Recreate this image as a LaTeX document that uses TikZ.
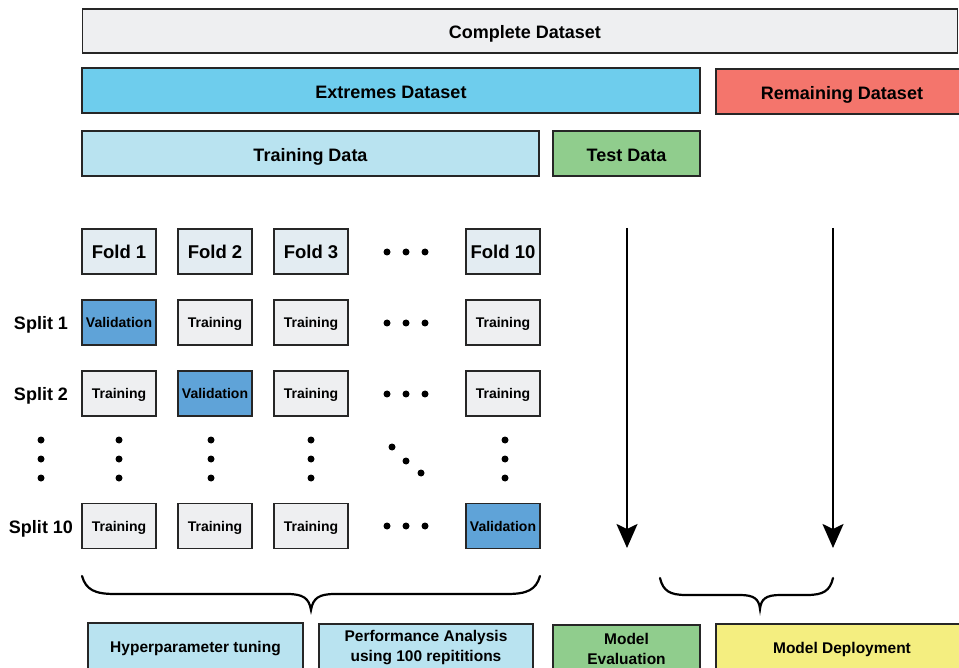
\documentclass[tikz,border=0pt]{standalone}
\usepackage{fontspec}
\setmainfont{Liberation Sans}
\usetikzlibrary{arrows.meta}

\definecolor{edge}{HTML}{262626}
\definecolor{completefill}{HTML}{EEEFF1}
\definecolor{extremesfill}{HTML}{6ECDED}
\definecolor{remainfill}{HTML}{F4756C}
\definecolor{trainfill}{HTML}{B9E3F0}
\definecolor{testfill}{HTML}{90CD8D}
\definecolor{foldfill}{HTML}{E3ECF2}
\definecolor{cellfill}{HTML}{EEEFF1}
\definecolor{validfill}{HTML}{5FA3D8}
\definecolor{deployfill}{HTML}{F4EE80}

\begin{document}
\begin{tikzpicture}[x=1pt,y=-1pt,
  box/.style={draw=edge, line width=1.3pt, rectangle, inner sep=0pt,
    text height=15.5pt, text depth=0pt,
    font=\bfseries\fontsize{18}{20}\selectfont},
  lbl/.style={inner sep=0pt, text height=13pt, text depth=0pt,
    font=\bfseries\fontsize{18}{20}\selectfont},
  foldbox/.style={box, fill=foldfill, minimum width=74pt, minimum height=45pt,
    text height=13.5pt, font=\bfseries\fontsize{18.5}{20}\selectfont},
  trcell/.style={box, fill=cellfill, minimum width=74pt, minimum height=45pt,
    text height=10.5pt, font=\bfseries\fontsize{14}{16}\selectfont},
  vacell/.style={trcell, fill=validfill},
  bottombox/.style={draw=edge, line width=1.3pt, rectangle, inner sep=0pt,
    minimum height=48pt, align=center,
    font=\bfseries\fontsize{15.5}{20}\selectfont},
  onebottom/.style={bottombox, text height=11.1pt, text depth=0pt},
  dot/.style={circle, fill=black, inner sep=0pt, minimum size=7pt},
  flow/.style={line width=2.2pt, -{Stealth[length=24pt,width=21pt,inset=5pt]}},
  brace/.style={line width=2.2pt, line cap=round}
]
\clip (0,0) rectangle (959,668);

% dataset partition bars
\node[box, fill=completefill, minimum width=875pt, minimum height=44pt] (complete) at (520,31) {};
\node[lbl] (completetext) at (525,32.5) {Complete Dataset};
\node[box, fill=extremesfill, minimum width=618pt, minimum height=45pt] (extremes) at (391,90.5) {Extremes Dataset};
\node[box, fill=remainfill, minimum width=252pt, minimum height=45pt] (remaining) at (842,91.5) {Remaining Dataset};
\node[box, fill=trainfill, minimum width=457pt, minimum height=45pt] (traindata) at (310.5,153.5) {Training Data};
\node[box, fill=testfill, minimum width=147pt, minimum height=45pt] (testdata) at (626.5,153.5) {Test Data};

% fold headers
\node[foldbox] (f1) at (119,251.5) {Fold 1};
\node[foldbox] (f2) at (215,251.5) {Fold 2};
\node[foldbox] (f3) at (311,251.5) {Fold 3};
\node[foldbox] (f10) at (503,251.5) {Fold 10};

% split labels
\node[lbl] (s1) at (41,323.5) {Split 1};
\node[lbl] (s2) at (41,394.5) {Split 2};
\node[lbl] (s10) at (41,527) {Split 10};

% split 1
\node[vacell] (a1) at (119,322.5) {Validation};
\node[trcell] (a2) at (215,322.5) {Training};
\node[trcell] (a3) at (311,322.5) {Training};
\node[trcell] (a10) at (503,322.5) {Training};
% split 2
\node[trcell] (b1) at (119,393.5) {Training};
\node[vacell] (b2) at (215,393.5) {Validation};
\node[trcell] (b3) at (311,393.5) {Training};
\node[trcell] (b10) at (503,393.5) {Training};
% split 10
\node[trcell] (c1) at (119,526) {Training};
\node[trcell] (c2) at (215,526) {Training};
\node[trcell] (c3) at (311,526) {Training};
\node[vacell] (c10) at (503,526) {Validation};

% horizontal ellipses
\foreach \r/\y in {f/252, a/323, b/394, c/526}{
  \node[dot] (\r h1) at (387,\y) {};
  \node[dot] (\r h2) at (406,\y) {};
  \node[dot] (\r h3) at (425,\y) {};
}
% vertical ellipses
\foreach \c/\x in {s/41, k1/119, k2/211, k3/311, k10/505}{
  \node[dot] (\c v1) at (\x,440) {};
  \node[dot] (\c v2) at (\x,459) {};
  \node[dot] (\c v3) at (\x,478) {};
}
% diagonal ellipsis
\node[dot] (d1) at (392,447) {};
\node[dot] (d2) at (406,461) {};
\node[dot] (d3) at (421,473) {};

% arrows from test data and remaining dataset
\coordinate (evtop) at (627,228);
\coordinate (evbot) at (627,548);
\coordinate (dptop) at (833,228);
\coordinate (dpbot) at (833,548);
\draw[flow] (evtop) -- (evbot);
\draw[flow] (dptop) -- (dpbot);

% braces
\draw[brace] (82,576) .. controls (86,590) and (95,594) .. (115,594) -- (287,594)
  .. controls (303,594) and (309,598) .. (311,610)
  .. controls (313,598) and (319,594) .. (335,594) -- (507,594)
  .. controls (527,594) and (536,590) .. (540,576);
\draw[brace] (660,578) .. controls (663,591) and (670,595) .. (686,595) -- (740,595)
  .. controls (754,595) and (759,599) .. (760,609)
  .. controls (761,599) and (766,595) .. (780,595) -- (807,595)
  .. controls (823,595) and (830,591) .. (833,578);

% outcome boxes
\node[onebottom, fill=trainfill, minimum width=215pt] (hyper) at (195.5,647) {Hyperparameter tuning};
\node[bottombox, fill=trainfill, minimum width=214pt] (perf) at (426,648) {Performance Analysis\\using 100 repititions};
\node[bottombox, fill=testfill, minimum width=147pt] (evalbox) at (626.5,649) {Model\\Evaluation};
\node[onebottom, fill=deployfill, minimum width=252pt] (deploy) at (842,648) {Model Deployment};
\end{tikzpicture}
\end{document}
